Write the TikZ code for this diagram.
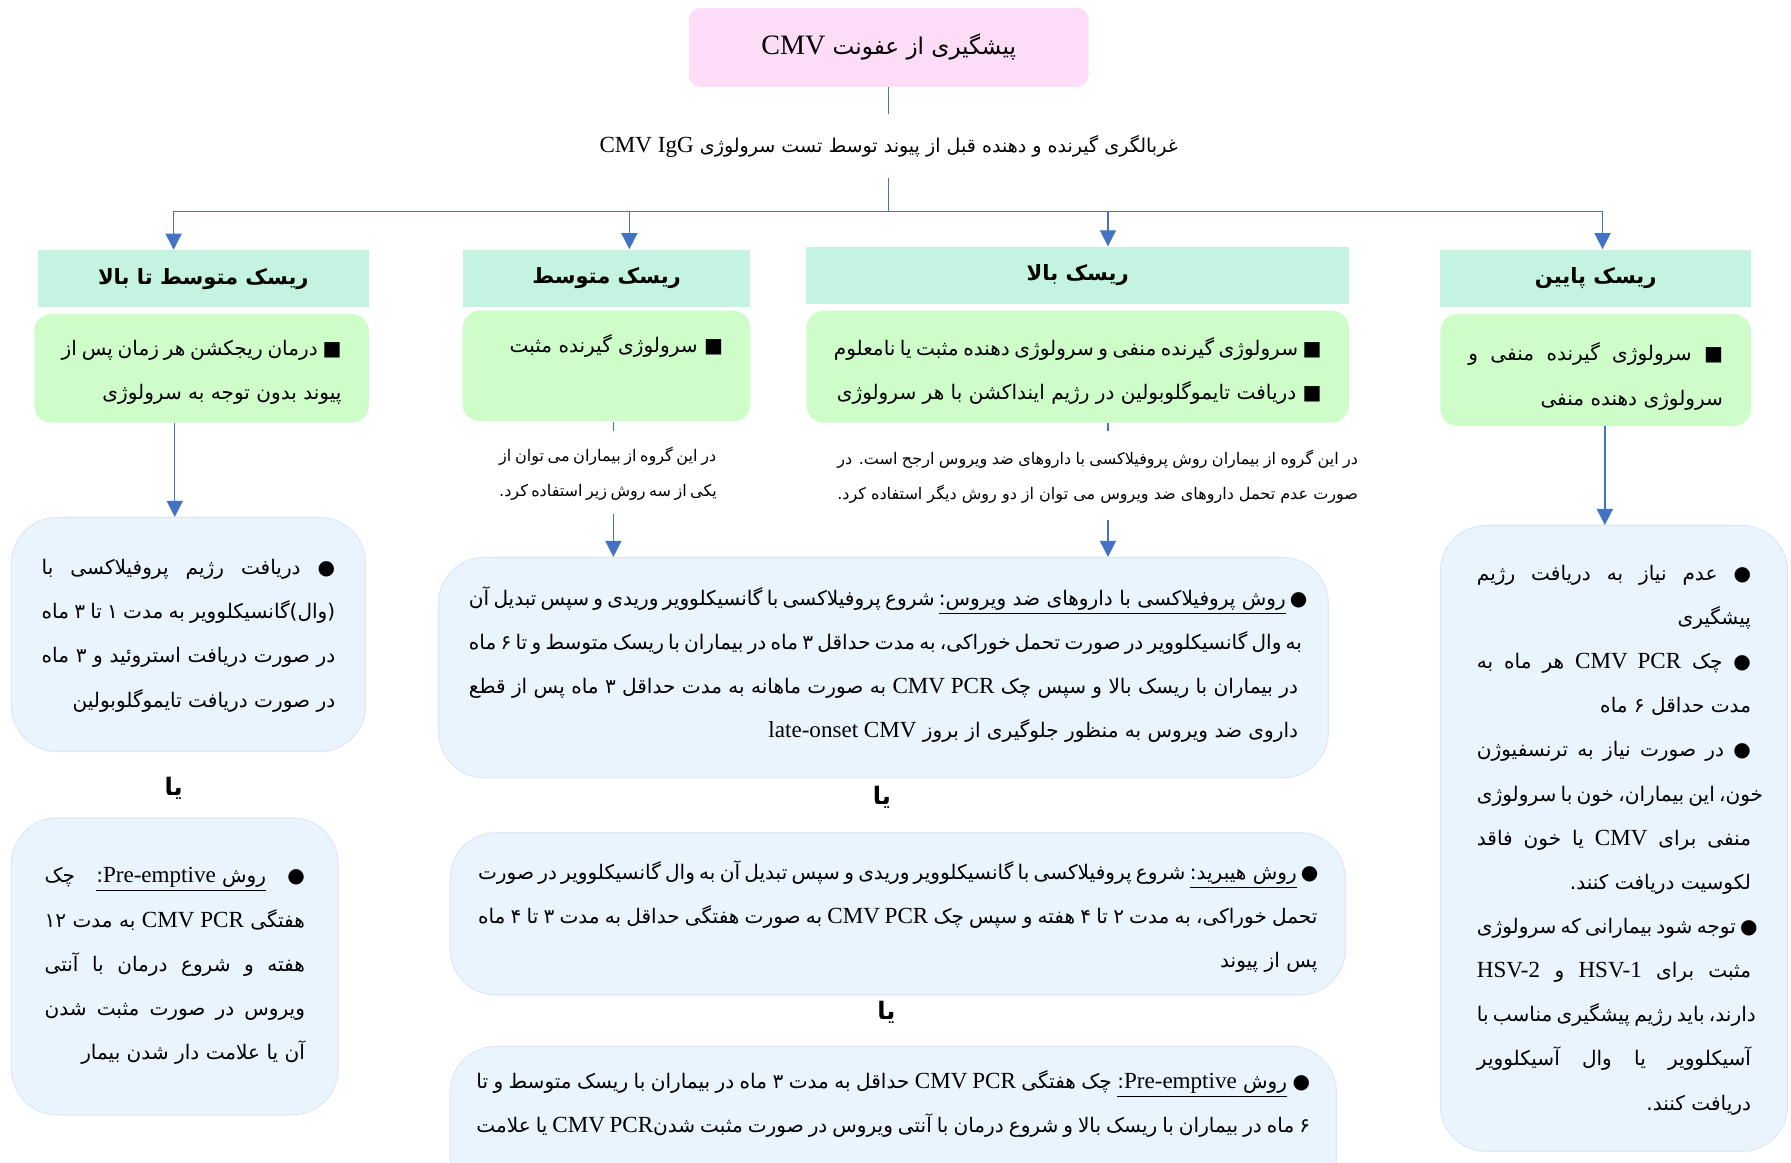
\documentclass[tikz,border=0pt]{standalone}
\usepackage{fontspec}
\usetikzlibrary{arrows.meta,positioning}
\setmainfont{Liberation Serif}
\newfontfamily\fa[Script=Arabic]{DejaVu Sans}
\TeXXeTstate=1

\definecolor{pinkfill}{HTML}{FCDCF6}
\definecolor{mintfill}{HTML}{C5F3E1}
\definecolor{greenfill}{HTML}{CEFDCA}
\definecolor{bluefill}{HTML}{EAF4FE}
\definecolor{blueedge}{HTML}{DCE7F4}
\definecolor{linkblue}{HTML}{4472C4}

\newcommand\lat[1]{{\fontsize{11.5pt}{22pt}\rmfamily\beginL#1\endL}}
\newcommand\str{\vrule height.64\baselineskip depth.3\baselineskip width0pt}
\newcommand\fl[1]{\hbox to\hsize{\str\beginR#1\endR}}
\newcommand\rl[1]{\hbox to\hsize{\str\hfill\beginR#1\endR}}
\newcommand\ulr[1]{$\underline{\hbox{\beginR#1\endR}}$}
\newcommand\body[4]{\vbox to#2{\hsize=#1\relax\baselineskip=22pt\vskip\dimexpr#3-.64\baselineskip\relax #4\vss}}

\begin{document}
\begin{tikzpicture}[x=0.02cm, y=-0.02cm,
  every node/.style={inner sep=0pt, font=\fa},
  titlebox/.style={fill=pinkfill, rounded corners=0.2cm, minimum width=7cm, minimum height=1.38cm, font=\fa\fontsize{11.5pt}{14pt}\selectfont},
  headbox/.style={fill=mintfill, minimum height=1cm, font=\fa\bfseries\fontsize{10.5pt}{13pt}\selectfont},
  greenbox/.style={fill=greenfill, rounded corners=0.3cm, font=\fa\fontsize{10pt}{22pt}\selectfont},
  bluebox/.style={fill=bluefill, draw=blueedge, line width=0.5pt, rounded corners=0.8cm, font=\fa\fontsize{10pt}{22pt}\selectfont},
  screentext/.style={font=\fa\fontsize{9.5pt}{12pt}\selectfont},
  notetext/.style={font=\fa\fontsize{8pt}{17.6pt}\selectfont},
  ortext/.style={font=\fa\bfseries\fontsize{12pt}{14pt}\selectfont},
  link/.style={draw=linkblue, line width=0.7pt},
  arrow/.style={link, -{Triangle[length=8pt,width=8pt]}}]
  \useasboundingbox (0,0) rectangle (1568,1018);

  \node[titlebox] (title) at (778,41.5) {\beginR پیشگیری از عفونت {\fontsize{14pt}{16pt}\rmfamily CMV}\endR};
  \node[screentext, minimum height=1.1cm] (screen) at (778,128) {\beginR غربالگری گیرنده و دهنده قبل از پیوند توسط تست سرولوژی \lat{CMV IgG}\endR};
  \coordinate (bus) at (778,185);

  \node[headbox, minimum width=5.8cm] (hLH) at (178,244) {\beginR ریسک متوسط تا بالا\endR};
  \node[headbox, minimum width=5.04cm] (hM) at (531,243.5) {\beginR ریسک متوسط\endR};
  \node[headbox, minimum width=9.5cm] (hH) at (943.5,241) {\beginR ریسک بالا\endR};
  \node[headbox, minimum width=5.44cm] (hL) at (1397,243.5) {\beginR ریسک پایین\endR};

  \node[greenbox, minimum width=5.86cm, minimum height=1.9cm] (gLH) at (176.5,322.5) {\body{4.9cm}{1.9cm}{0.72cm}{
    \fl{■ درمان ریجکشن هر زمان پس از}
    \rl{پیوند بدون توجه به سرولوژی}}};
  \node[greenbox, minimum width=5.04cm, minimum height=1.94cm] (gM) at (531,320.5) {\body{4.08cm}{1.94cm}{0.74cm}{
    \rl{■ سرولوژی گیرنده مثبت}}};
  \node[greenbox, minimum width=9.5cm, minimum height=1.96cm] (gH) at (943.5,321) {\body{8.54cm}{1.96cm}{0.78cm}{
    \rl{■ سرولوژی گیرنده منفی و سرولوژی دهنده مثبت یا نامعلوم}
    \rl{■ دریافت تایموگلوبولین در رژیم اینداکشن با هر سرولوژی}}};
  \node[greenbox, minimum width=5.44cm, minimum height=1.96cm] (gL) at (1397,324) {\body{4.46cm}{1.96cm}{0.82cm}{
    \fl{■ سرولوژی گیرنده منفی و}
    \rl{سرولوژی دهنده منفی}}};

  \node[notetext, minimum height=1.44cm] (noteM) at (532,414) {\vbox{\hsize=3.8cm\baselineskip=17.6pt
    \fl{در این گروه از بیماران می توان از}
    \rl{یکی از سه روش زیر استفاده کرد.}}};
  \node[notetext, minimum height=1.54cm] (noteH) at (961,416.5) {\vbox{\hsize=9.12cm\baselineskip=17.6pt
    \fl{در این گروه از بیماران روش پروفیلاکسی با داروهای ضد ویروس ارجح است. در}
    \rl{صورت عدم تحمل داروهای ضد ویروس می توان از دو روش دیگر استفاده کرد.}}};

  \node[bluebox, minimum width=6.2cm, minimum height=4.1cm] (bLH1) at (165,555.5) {\body{5.14cm}{4.1cm}{1.0cm}{
    \fl{● دریافت رژیم پروفیلاکسی با}
    \fl{(وال)گانسیکلوویر به مدت ۱ تا ۳ ماه}
    \fl{در صورت دریافت استروئید و ۳ ماه}
    \rl{در صورت دریافت تایموگلوبولین}}};
  \node[ortext] (or1) at (152,690) {یا};
  \node[bluebox, minimum width=5.72cm, minimum height=5.2cm] (bLH2) at (153,846) {\body{4.56cm}{5.2cm}{1.14cm}{
    \fl{● \ulr{روش \lat{Pre-emptive}:} چک}
    \fl{هفتگی \lat{CMV PCR} به مدت ۱۲}
    \fl{هفته و شروع درمان با آنتی}
    \fl{ویروس در صورت مثبت شدن}
    \rl{آن یا علامت دار شدن بیمار}}};

  \node[bluebox, minimum width=15.58cm, minimum height=3.86cm] (bM1) at (773.5,584.5) {\body{14.52cm}{3.86cm}{0.84cm}{
    \fl{● \ulr{روش پروفیلاکسی با داروهای ضد ویروس:} شروع پروفیلاکسی با گانسیکلوویر وریدی و سپس تبدیل آن}
    \fl{به وال گانسیکلوویر در صورت تحمل خوراکی، به مدت حداقل ۳ ماه در بیماران با ریسک متوسط و تا ۶ ماه}
    \fl{در بیماران با ریسک بالا و سپس چک \lat{CMV PCR} به صورت ماهانه به مدت حداقل ۳ ماه پس از قطع}
    \rl{داروی ضد ویروس به منظور جلوگیری از بروز \lat{late-onset CMV}}}};
  \node[ortext] (or2) at (772,698) {یا};
  \node[bluebox, minimum width=15.68cm, minimum height=2.84cm] (bM2) at (786,800) {\body{14.7cm}{2.84cm}{0.82cm}{
    \fl{● \ulr{روش هیبرید:} شروع پروفیلاکسی با گانسیکلوویر وریدی و سپس تبدیل آن به وال گانسیکلوویر در صورت}
    \fl{تحمل خوراکی، به مدت ۲ تا ۴ هفته و سپس چک \lat{CMV PCR} به صورت هفتگی حداقل به مدت ۳ تا ۴ ماه}
    \rl{پس از پیوند}}};
  \node[ortext] (or3) at (776,886) {یا};
  \node[bluebox, minimum width=15.52cm, minimum height=2.8cm] (bM3) at (782,986) {\body{14.6cm}{2.8cm}{0.74cm}{
    \fl{● \ulr{روش \lat{Pre-emptive}:} چک هفتگی \lat{CMV PCR} حداقل به مدت ۳ ماه در بیماران با ریسک متوسط و تا}
    \fl{۶ ماه در بیماران با ریسک بالا و شروع درمان با آنتی ویروس در صورت مثبت شدن\lat{CMV PCR} یا علامت}}};

  \node[bluebox, minimum width=6.08cm, minimum height=10.96cm] (bL) at (1413,734) {\body{4.8cm}{10.96cm}{0.96cm}{
    \fl{● عدم نیاز به دریافت رژیم}
    \rl{پیشگیری}
    \fl{● چک \lat{CMV PCR} هر ماه به}
    \rl{مدت حداقل ۶ ماه}
    \fl{● در صورت نیاز به ترنسفیوژن}
    \fl{خون، این بیماران، خون با سرولوژی}
    \fl{منفی برای \lat{CMV} یا خون فاقد}
    \rl{لکوسیت دریافت کنند.}
    \fl{● توجه شود بیمارانی که سرولوژی}
    \fl{مثبت برای \lat{HSV-1} و \lat{HSV-2}}
    \fl{دارند، باید رژیم پیشگیری مناسب با}
    \fl{آسیکلوویر یا وال آسیکلوویر}
    \rl{دریافت کنند.}}};

  \draw[link] (title) -- (screen);
  \draw[link] (screen) -- (bus);
  \draw[arrow] (bus) -| ([xshift=-0.52cm]hLH.north);
  \draw[arrow] (bus) -| ([xshift=0.4cm]hM.north);
  \draw[arrow] (bus) -| ([xshift=0.53cm]hH.north);
  \draw[arrow] (bus) -| ([xshift=0.12cm]hL.north);

  \coordinate (aLH) at ([xshift=-0.47cm]gLH.south);
  \draw[arrow] (aLH) -- (aLH |- bLH1.north);
  \coordinate (aM) at ([xshift=0.1cm]noteM.north);
  \coordinate (bM) at ([xshift=0.1cm]noteM.south);
  \draw[link] (aM |- gM.south) -- (aM);
  \draw[arrow] (bM) -- (bM |- bM1.north);
  \coordinate (aH) at ([xshift=0.18cm]noteH.north);
  \coordinate (bH) at ([xshift=0.18cm]noteH.south);
  \draw[link] (aH |- gH.south) -- (aH);
  \draw[arrow] (bH) -- (bH |- bM1.north);
  \coordinate (aL) at ([xshift=0.16cm]gL.south);
  \draw[arrow] (aL) -- (aL |- bL.north);
\end{tikzpicture}
\end{document}
